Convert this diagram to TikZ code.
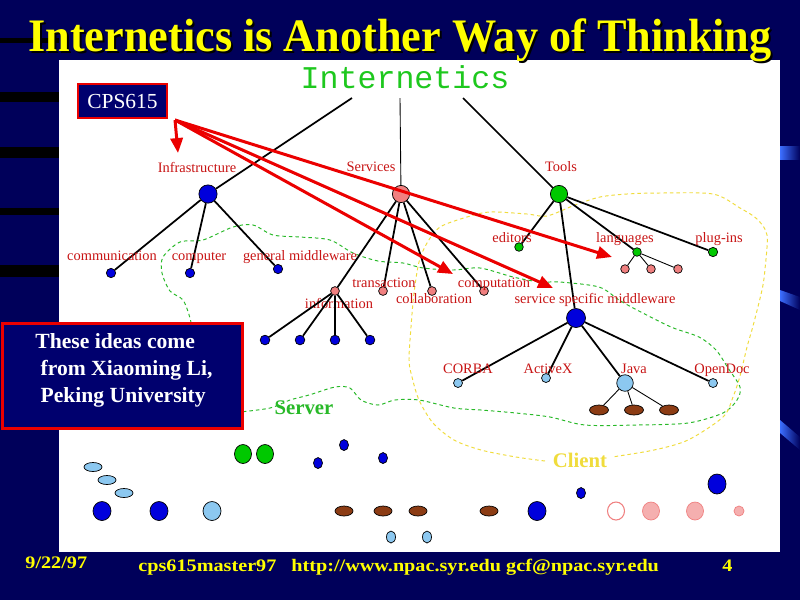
\documentclass[tikz,border=0pt]{standalone}
\usepackage{fontspec}
\setmainfont{Liberation Serif}
\newfontfamily\inetfont{Liberation Mono}
\usetikzlibrary{arrows.meta,shapes.geometric}
\definecolor{slidebg}{RGB}{0,0,90}
\definecolor{boxnavy}{RGB}{0,0,110}
\definecolor{bandblue}{RGB}{60,110,255}
\definecolor{titleyellow}{RGB}{255,255,0}
\definecolor{inetgreen}{RGB}{30,200,30}
\definecolor{srvgreen}{RGB}{40,185,40}
\definecolor{cliyellow}{RGB}{240,220,60}
\definecolor{lblred}{RGB}{200,20,20}
\definecolor{arrred}{RGB}{235,0,0}
\definecolor{dotblue}{RGB}{0,0,220}
\definecolor{dotpink}{RGB}{240,128,128}
\definecolor{pinkfill}{RGB}{245,175,175}
\definecolor{dotgreen}{RGB}{0,200,0}
\definecolor{dotlb}{RGB}{140,200,240}
\definecolor{dotbrown}{RGB}{140,60,20}
\begin{document}
\begin{tikzpicture}[x=0.02cm,y=-0.02cm,
  dot/.style={circle,draw=black,line width=0.4pt,inner sep=0pt},
  lbl/.style={text=lblred,anchor=base,inner sep=0pt,font=\fontsize{8.2}{9}\selectfont},
  branch/.style={line width=1pt},
  twig/.style={line width=0.5pt},
  pointer/.style={draw=arrred,line width=1.7pt,-{Triangle[length=8.5pt,width=7pt]}},
  zone/.style={line width=0.55pt,dash pattern=on 2pt off 1.7pt},
  headline/.style={anchor=base,inner sep=0pt,xscale=0.95,transform shape,
    font=\fontsize{26.5}{30}\selectfont\bfseries},
  footer/.style={text=titleyellow,anchor=base west,inner sep=0pt,xscale=1.15,transform shape,
    font=\fontsize{10}{12}\selectfont\bfseries}]
  \useasboundingbox (0,0) rectangle (800,600);
  \fill[slidebg] (0,0) rectangle (800,600);
  \foreach \y/\h in {38/5,92/10,147/11,208/7,265/12}
    \fill[black] (0,\y) rectangle (59,\y+\h);
  \shade[left color=bandblue,right color=slidebg] (780,146) rectangle (800,159);
  \shade[left color=bandblue,right color=slidebg] (780,290) -- (800,297) -- (800,310) -- (780,301) -- cycle;
  \shade[left color=bandblue,right color=slidebg] (780,420) -- (800,437) -- (800,450) -- (780,433) -- cycle;
  \fill[white] (59,60) rectangle (780,552);

  \node[headline,text=black] (title-s) at (402,53) {Internetics is Another Way of Thinking};
  \node[headline,text=titleyellow] (title) at (400,51) {Internetics is Another Way of Thinking};

  \draw[zone,srvgreen] plot[smooth] coordinates {(192,330) (190,318) (183,300) (170,291) (162,273)
    (163,257) (180,242) (203,240) (233,227) (253,225) (273,235) (300,237) (330,240) (353,253)
    (378,261) (403,263) (423,268) (453,270) (480,268) (513,277) (540,282) (560,282) (599,287)
    (619,300) (637,310) (671,327) (699,337) (716,350) (728,368) (740,387) (737,400) (723,413)
    (688,423) (637,425) (585,425) (550,417) (516,413) (481,410) (454,408) (419,400) (395,400)
    (378,405) (361,400) (350,388) (335,387) (309,395) (290,400) (270,408) (240,412)};
  \draw[zone,cliyellow] plot[smooth] coordinates {(545,461) (516,457) (481,450) (454,440) (433,423)
    (419,400) (412,377) (409,360) (411,327) (414,293) (419,262) (427,243) (440,227) (467,217)
    (490,212) (527,214) (547,216) (575,205) (600,197) (627,194) (660,193) (713,194) (740,208)
    (757,219) (767,235) (765,269) (762,290) (753,326) (747,347) (740,376) (733,397) (723,417)
    (688,440) (654,450) (612,457)};
  \node[text=srvgreen,anchor=base,inner sep=0pt,font=\fontsize{11.8}{13}\selectfont\bfseries] (server) at (304,414) {Server};
  \node[text=cliyellow,anchor=base,inner sep=0pt,font=\fontsize{11.8}{13}\selectfont\bfseries] (client) at (580,467) {Client};

  \node[text=inetgreen,anchor=base,inner sep=0pt,font=\inetfont\fontsize{18}{20}\selectfont] (inet) at (405,88) {Internetics};
  \coordinate (inetL) at (352,98);
  \coordinate (inetM) at (400,98);
  \coordinate (inetR) at (463,98);

  \node[dot,fill=dotblue,minimum size=10.4pt] (infra) at (208,194) {};
  \node[dot,fill=dotpink,minimum size=9.8pt] (serv) at (401,194) {};
  \node[dot,fill=dotgreen,minimum size=9.8pt] (tools) at (559,194) {};
  \draw[branch] (inetL) -- (infra);
  \draw[twig] (inetM) -- (serv);
  \draw[branch] (inetR) -- (tools);
  \node[lbl] (infra-l) at (197,172) {Infrastructure};
  \node[lbl] (serv-l) at (371,171) {Services};
  \node[lbl] (tools-l) at (561,171) {Tools};

  \foreach \n/\x/\y in {comm/111/273,comp/190/273,gmw/278/269} {
    \node[dot,fill=dotblue,minimum size=5.3pt] (\n) at (\x,\y) {};
    \draw[branch] (infra) -- (\n);
  }
  \node[lbl] (comm-l) at (112,260) {communication};
  \node[lbl] (comp-l) at (199,260) {computer};
  \node[lbl] (gmw-l) at (300,260) {general middleware};

  \foreach \n/\x in {info/335,trans/383,collab/432,compu/484} {
    \node[dot,fill=dotpink,minimum size=5pt] (\n) at (\x,291) {};
    \draw[branch] (serv) -- (\n);
  }
  \node[lbl] (trans-l) at (384,287) {transaction};
  \node[lbl] (info-l) at (339,308) {information};
  \node[lbl] (collab-l) at (434,303) {collaboration};
  \node[lbl] (compu-l) at (494,287) {computation};
  \foreach \i/\x in {1/265,2/300,3/335,4/370} {
    \node[dot,fill=dotblue,minimum size=5.5pt] (info\i) at (\x,340) {};
    \draw[branch] (info) -- (info\i);
  }

  \node[dot,fill=dotgreen,minimum size=4.9pt] (edit) at (519,247) {};
  \node[dot,fill=dotgreen,minimum size=4.9pt] (lang) at (637,252) {};
  \node[dot,fill=dotgreen,minimum size=5.3pt] (plug) at (713,252) {};
  \node[dot,fill=dotblue,minimum size=10.8pt] (ssm) at (576,318) {};
  \foreach \n in {edit,lang,plug,ssm}
    \draw[branch] (tools) -- (\n);
  \node[lbl] (edit-l) at (512,242) {editors};
  \node[lbl] (lang-l) at (625,242) {languages};
  \node[lbl] (plug-l) at (719,242) {plug-ins};
  \node[lbl] (ssm-l) at (595,303) {service specific middleware};
  \foreach \i/\x in {1/625,2/651,3/678} {
    \node[dot,fill=dotpink,minimum size=4.9pt] (lang\i) at (\x,269) {};
    \draw[twig] (lang) -- (lang\i);
  }

  \foreach \n/\x/\y/\s in {corba/458/383/5.1,activex/546/378/5.1,java/625/383/9.4,opendoc/713/383/5.1} {
    \node[dot,fill=dotlb,minimum size=\s pt] (\n) at (\x,\y) {};
    \draw[branch] (ssm) -- (\n);
  }
  \node[lbl] (corba-l) at (468,373) {CORBA};
  \node[lbl] (activex-l) at (548,373) {ActiveX};
  \node[lbl] (java-l) at (634,373) {Java};
  \node[lbl] (opendoc-l) at (722,373) {OpenDoc};
  \foreach \i/\x in {1/599,2/634,3/669} {
    \node[ellipse,draw=black,line width=0.4pt,fill=dotbrown,inner sep=0pt,
      minimum width=10.8pt,minimum height=5.7pt] (java\i) at (\x,410) {};
    \draw[twig] (java) -- (java\i);
  }

  \foreach \x/\y in {93/467,107/480,124/493}
    \filldraw[fill=dotlb,line width=0.4pt] (\x,\y) ellipse [x radius=9,y radius=4.5];
  \foreach \x/\c in {102/dotblue,159/dotblue,212/dotlb,537/dotblue}
    \filldraw[fill=\c,line width=0.4pt] (\x,511) ellipse [x radius=9,y radius=9.5];
  \foreach \x in {243,265}
    \filldraw[fill=dotgreen,line width=0.4pt] (\x,454) ellipse [x radius=8.5,y radius=9.5];
  \foreach \x/\y in {344/445,318/463,383/458,581/493}
    \filldraw[fill=dotblue,line width=0.4pt] (\x,\y) ellipse [x radius=4.5,y radius=5.5];
  \foreach \x in {344,383,418,489}
    \filldraw[fill=dotbrown,line width=0.4pt] (\x,511) ellipse [x radius=9,y radius=5];
  \filldraw[fill=dotblue,line width=0.4pt] (717,484) ellipse [x radius=9,y radius=10];
  \draw[dotpink,line width=0.6pt] (616,511) ellipse [x radius=8.5,y radius=9];
  \foreach \x in {651,695}
    \filldraw[fill=pinkfill,draw=dotpink] (\x,511) ellipse [x radius=8.5,y radius=9];
  \filldraw[fill=pinkfill,draw=dotpink] (739,511) ellipse [x radius=5,y radius=5];
  \foreach \x in {391,427}
    \filldraw[fill=dotlb,line width=0.4pt] (\x,537) ellipse [x radius=4.5,y radius=6];

  \node[draw=arrred,line width=1.2pt,fill=boxnavy,text=white,minimum width=50.5pt,minimum height=19.2pt,
    inner sep=0pt,font=\fontsize{12.2}{14}\selectfont] (cps) at (122.5,101) {CPS615};
  \coordinate (from) at (175,120);
  \coordinate (toInfra) at (178,153);
  \coordinate (toLang) at (612,257);
  \coordinate (toCompu) at (453,274);
  \coordinate (toSsm) at (553,288);
  \foreach \t in {toInfra,toLang,toCompu,toSsm}
    \draw[pointer] (from) -- (\t);

  \node[draw=arrred,line width=1.7pt,fill=boxnavy,minimum width=137pt,minimum height=59.5pt,
    inner sep=0pt] (ideas) at (122.5,376) {};
  \node[text=white,anchor=north west,align=left,inner sep=0pt,
    font=\fontsize{12.3}{15.3}\selectfont\bfseries] (ideas-t) at (35,333)
    {These ideas come\\\hspace*{3pt}from Xiaoming Li,\\\hspace*{3pt}Peking University};

  \node[footer] (date) at (25,568) {9/22/97};
  \node[footer] (course) at (138,571) {cps615master97};
  \node[footer] (urls) at (291,571) {http://www.npac.syr.edu gcf@npac.syr.edu};
  \node[footer] (page) at (722,571) {4};
\end{tikzpicture}
\end{document}
